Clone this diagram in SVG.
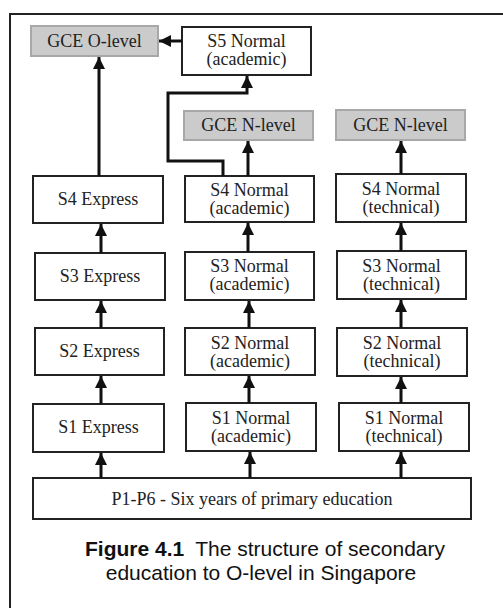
<svg xmlns="http://www.w3.org/2000/svg" width="503" height="608" viewBox="0 0 503 608">
<style>
.box{fill:#fff;stroke:#222;stroke-width:2}
.gce{fill:#cbcbcb;stroke:#a8a8a8;stroke-width:2}
.t{font-family:"Liberation Serif","Times New Roman",serif;font-size:18px;fill:#222;text-anchor:middle}
.c{stroke:#111;stroke-width:3;fill:none}
.cap{font-family:"Liberation Sans",Arial,sans-serif;font-size:21px;fill:#111;text-anchor:middle}
</style>
<defs>
<marker id="ah" markerUnits="userSpaceOnUse" markerWidth="12" markerHeight="14" refX="12" refY="6" orient="auto">
<path d="M0,0 L12,6 L0,12 Z" fill="#111"/>
</marker>
</defs>
<rect x="10" y="14" width="520" height="620" fill="none" stroke="#222" stroke-width="2"/>

<g id="olevel"><rect class="gce" x="31" y="26" width="127" height="30"/><text class="t" x="94.5" y="47">GCE O-level</text></g>
<g id="s5"><rect class="box" x="182" y="27" width="129" height="48"/><text class="t" x="246.5" y="47">S5 Normal</text><text class="t" x="246.5" y="65">(academic)</text></g>
<g id="nlevel-a"><rect class="gce" x="184" y="111" width="129" height="29"/><text class="t" x="248.5" y="131">GCE N-level</text></g>
<g id="nlevel-t"><rect class="gce" x="336" y="110" width="129" height="30"/><text class="t" x="400.5" y="131">GCE N-level</text></g>

<g id="s4e"><rect class="box" x="33" y="176" width="130" height="47"/><text class="t" x="98" y="205">S4 Express</text></g>
<g id="s4a"><rect class="box" x="185" y="176" width="129" height="46"/><text class="t" x="249.5" y="196">S4 Normal</text><text class="t" x="249.5" y="214">(academic)</text></g>
<g id="s4t"><rect class="box" x="336" y="174" width="130" height="48"/><text class="t" x="401" y="195">S4 Normal</text><text class="t" x="401" y="213">(technical)</text></g>

<g id="s3e"><rect class="box" x="35" y="253" width="130" height="47"/><text class="t" x="100" y="282">S3 Express</text></g>
<g id="s3a"><rect class="box" x="185" y="252" width="129" height="48"/><text class="t" x="249.5" y="272">S3 Normal</text><text class="t" x="249.5" y="290">(academic)</text></g>
<g id="s3t"><rect class="box" x="337" y="251" width="129" height="48"/><text class="t" x="401.5" y="272">S3 Normal</text><text class="t" x="401.5" y="290">(technical)</text></g>

<g id="s2e"><rect class="box" x="35" y="328" width="129" height="47"/><text class="t" x="99.5" y="357">S2 Express</text></g>
<g id="s2a"><rect class="box" x="185" y="328" width="130" height="47"/><text class="t" x="250" y="349">S2 Normal</text><text class="t" x="250" y="367">(academic)</text></g>
<g id="s2t"><rect class="box" x="337" y="328" width="130" height="48"/><text class="t" x="402" y="349">S2 Normal</text><text class="t" x="402" y="367">(technical)</text></g>

<g id="s1e"><rect class="box" x="33" y="404" width="131" height="48"/><text class="t" x="98.5" y="433">S1 Express</text></g>
<g id="s1a"><rect class="box" x="186" y="403" width="130" height="48"/><text class="t" x="251" y="424">S1 Normal</text><text class="t" x="251" y="442">(academic)</text></g>
<g id="s1t"><rect class="box" x="339" y="403" width="130" height="48"/><text class="t" x="404" y="424">S1 Normal</text><text class="t" x="404" y="442">(technical)</text></g>

<g id="primary"><rect class="box" x="33" y="478" width="438" height="41"/><text class="t" x="252" y="505">P1-P6 - Six years of primary education</text></g>

<g id="connectors">
<line class="c" x1="101" y1="478" x2="101" y2="453" marker-end="url(#ah)"/>
<line class="c" x1="250" y1="478" x2="250" y2="452" marker-end="url(#ah)"/>
<line class="c" x1="401" y1="478" x2="401" y2="452" marker-end="url(#ah)"/>
<line class="c" x1="101" y1="404" x2="101" y2="376" marker-end="url(#ah)"/>
<line class="c" x1="249" y1="403" x2="249" y2="376" marker-end="url(#ah)"/>
<line class="c" x1="401" y1="403" x2="401" y2="377" marker-end="url(#ah)"/>
<line class="c" x1="101" y1="328" x2="101" y2="301" marker-end="url(#ah)"/>
<line class="c" x1="249" y1="328" x2="249" y2="301" marker-end="url(#ah)"/>
<line class="c" x1="401" y1="328" x2="401" y2="300" marker-end="url(#ah)"/>
<line class="c" x1="101" y1="253" x2="101" y2="224" marker-end="url(#ah)"/>
<line class="c" x1="248" y1="252" x2="248" y2="223" marker-end="url(#ah)"/>
<line class="c" x1="401" y1="251" x2="401" y2="223" marker-end="url(#ah)"/>
<line class="c" x1="99" y1="176" x2="99" y2="57" marker-end="url(#ah)"/>
<line class="c" x1="248" y1="176" x2="248" y2="141" marker-end="url(#ah)"/>
<line class="c" x1="401" y1="174" x2="401" y2="141" marker-end="url(#ah)"/>
<path class="c" d="M223,176 V161 H168 V93 H247 V76" marker-end="url(#ah)"/>
<line class="c" x1="182" y1="41" x2="159" y2="41" marker-end="url(#ah)"/>
</g>

<g id="caption">
<text class="cap" x="265" y="556"><tspan font-weight="bold">Figure 4.1</tspan><tspan dx="11">The structure of secondary</tspan></text>
<text class="cap" x="261" y="580">education to O-level in Singapore</text>
</g>
</svg>
